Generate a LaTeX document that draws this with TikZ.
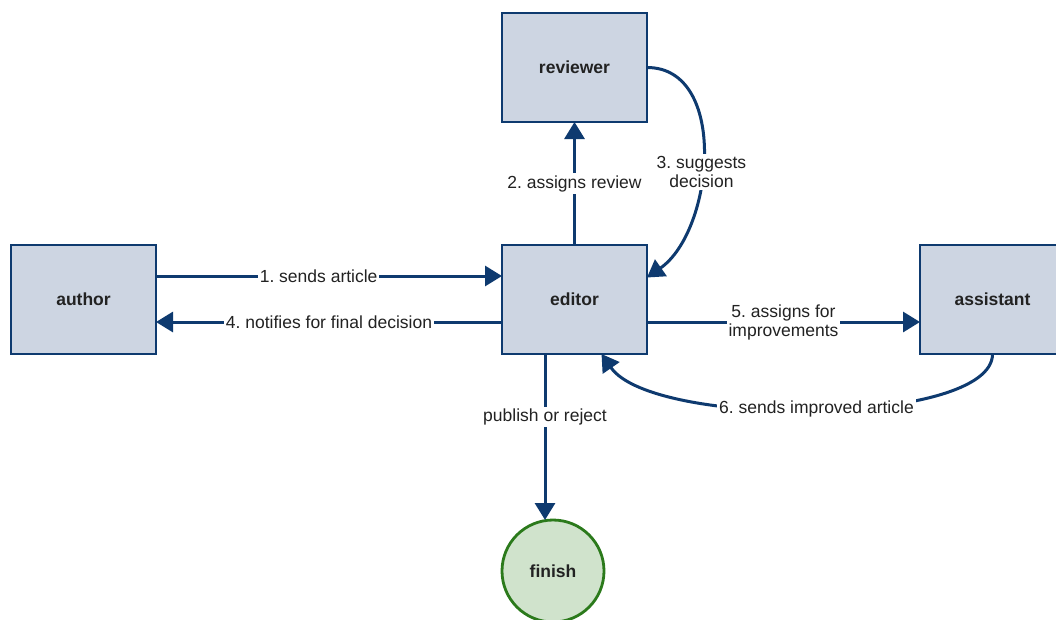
\documentclass[tikz,border=0pt]{standalone}
\usepackage{fontspec}
\setmainfont{Liberation Sans}
\usetikzlibrary{arrows.meta}
\definecolor{navy}{HTML}{0E3A6F}
\definecolor{boxfill}{HTML}{CDD5E2}
\definecolor{gfill}{HTML}{D0E3CC}
\definecolor{gline}{HTML}{2B7A1B}
\definecolor{txt}{HTML}{222222}
\frenchspacing
\tikzset{
  entity/.style={draw=navy, fill=boxfill, line width=2.8pt, minimum width=145pt, minimum height=109pt, inner sep=0pt, outer sep=0pt, font=\fontsize{17.5}{19}\selectfont\bfseries, text=txt},
  endnode/.style={circle, draw=gline, fill=gfill, line width=2.8pt, minimum size=102pt, inner sep=0pt, outer sep=0pt, font=\fontsize{17.5}{19}\selectfont\bfseries, text=txt},
  arr/.style={draw=navy, line width=3pt, -{Triangle[length=17pt,width=20pt]}},
  lbl/.style={fill=white, inner sep=2pt, font=\fontsize{17.5}{19}\selectfont\frenchspacing, text=txt, align=center}
}
\begin{document}
\begin{tikzpicture}[x=1pt,y=-1pt]
\clip (0,0) rectangle (1056,619);
\fill[white] (0,0) rectangle (1056,619);
\node[entity] (reviewer) at (574.5,67.5) {reviewer};
\node[entity] (author) at (83.5,299.5) {author};
\node[entity] (editor) at (574.5,299.5) {editor};
\node[entity] (assistant) at (992.5,299.5) {assistant};
\node[endnode] (finish) at (553,571) {finish};

\draw[arr] ([yshift=23.5pt]author.east) -- node[lbl,pos=0.47] {1. sends article} ([yshift=23.5pt]editor.west);
\draw[arr] ([yshift=-22.5pt]editor.west) -- node[lbl] {4. notifies for final decision} ([yshift=-22.5pt]author.east);
\draw[arr] (editor.north) -- node[lbl] {2. assigns review} (reviewer.south);
\draw[arr] (reviewer.east) to[out=0,in=35] node[lbl,pos=0.56] {3. suggests\\decision} ([yshift=22pt]editor.east);
\draw[arr] ([yshift=-22.5pt]editor.east) -- node[lbl] {5. assigns for\\improvements} ([yshift=-22.5pt]assistant.west);
\draw[arr] (assistant.south) .. controls +(0,72) and +(52,75) .. node[lbl,pos=0.5] {6. sends improved article} ([xshift=27pt]editor.south);
\draw[arr] ([xshift=-29.5pt]editor.south) -- node[lbl,pos=0.38] {publish or reject} ([xshift=-8pt]finish.north);
\end{tikzpicture}
\end{document}
